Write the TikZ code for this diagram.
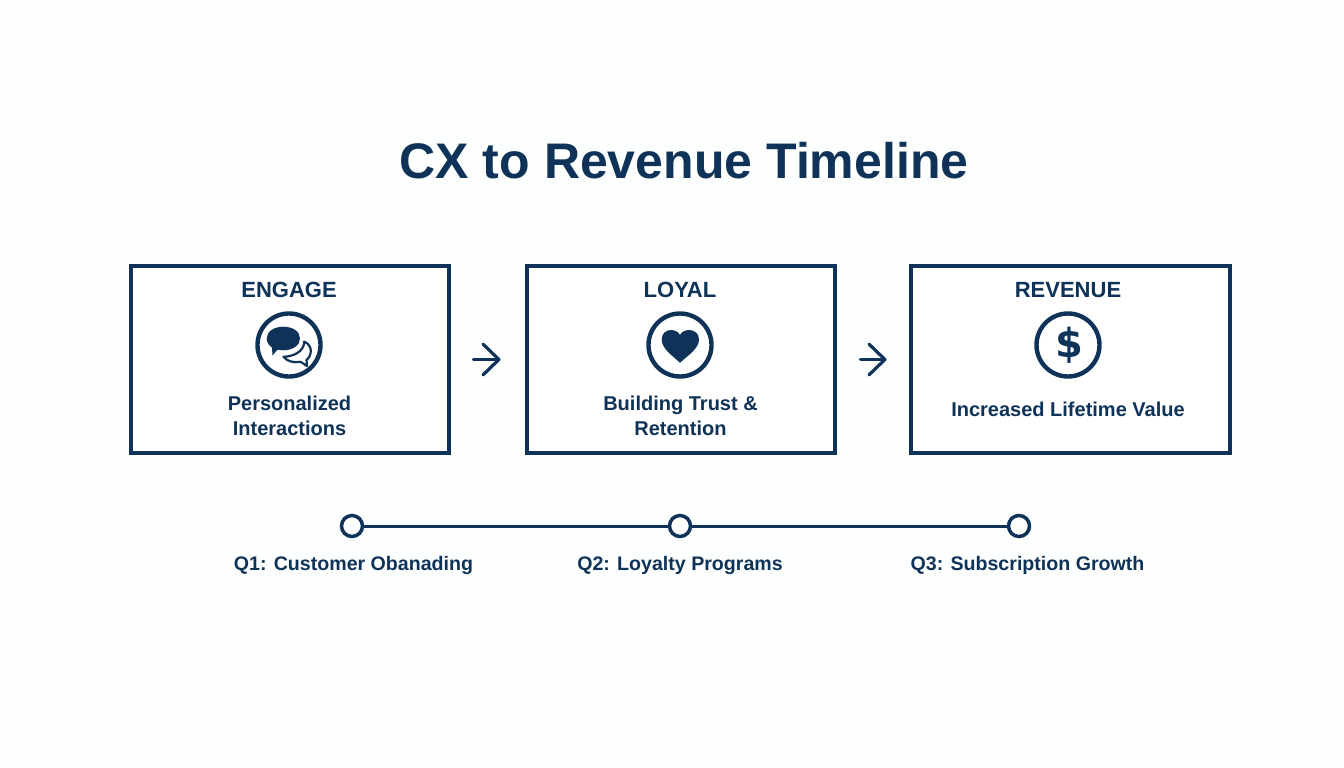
\documentclass[tikz,border=0pt]{standalone}
\usepackage{fontspec}
\setmainfont{Liberation Sans}
\newfontfamily\heavyfont{DejaVu Sans}
\usetikzlibrary{arrows.meta}
\definecolor{navy}{HTML}{0F3358}
\definecolor{paper}{HTML}{FDFEFE}
\tikzset{
  x=1pt,y=-1pt,
  stage/.style={draw=navy,line width=4pt,fill=white,minimum height=187pt,inner sep=0pt},
  head/.style={text=navy,anchor=base,font=\fontsize{22}{26}\bfseries\selectfont},
  body/.style={text=navy,font=\fontsize{20}{25}\bfseries\selectfont,align=center},
  icon/.style={draw=navy,line width=4.4pt,circle,minimum size=63pt,inner sep=0pt},
  flow/.style={draw=navy,line width=3.2pt,line cap=round,-{Straight Barb[length=16pt,width=31pt,line cap=round,round]}},
  dot/.style={draw=navy,line width=3.5pt,circle,fill=paper,minimum size=21pt,inner sep=0pt},
  tline/.style={draw=navy,line width=3pt},
  qlabel/.style={text=navy,font=\fontsize{19.6}{24}\bfseries\selectfont},
}
\begin{document}
\begin{tikzpicture}
\useasboundingbox (0,0) rectangle (1344,768);
\fill[paper] (0,0) rectangle (1344,768);
\node[text=navy,font=\fontsize{50}{60}\bfseries\selectfont] (title) at (684,161) {CX to Revenue Timeline};
\node[stage,minimum width=318pt] (engage) at (289.5,359.5) {};
\node[stage,minimum width=308pt] (loyal) at (680.5,359.5) {};
\node[stage,minimum width=319pt] (revenue) at (1070,359.5) {};
\node[head] (h1) at (289,297.5) {ENGAGE};
\node[head] (h2) at (680,297.5) {LOYAL};
\node[head] (h3) at (1068,297.5) {REVENUE};
\node[icon] (i1) at (289,345) {};
\node[icon] (i2) at (680,345) {};
\node[icon] (i3) at (1068,345) {};
% chat icon
\fill[navy] (266.7,338.5) .. controls (266.7,331.5) and (274,326.7) .. (283.3,326.7)
  .. controls (293,326.7) and (300,331.5) .. (300,338.5)
  .. controls (300,345.5) and (292.5,350.3) .. (283.3,350.3)
  .. controls (281,350.3) and (279,350) .. (277.5,349.7)
  -- (272.5,355.5) -- (272,347.5)
  .. controls (268.7,345.5) and (266.7,342) .. (266.7,338.5) -- cycle;
\draw[navy,line width=2.2pt,line join=round] (304.3,341.5) .. controls (309.5,344) and (312,349) .. (310.5,353.5)
  .. controls (310,356.5) and (308.5,358.5) .. (306.5,360) -- (307,366) -- (300.5,361.8)
  .. controls (294,363) and (287,361.5) .. (283.5,356.8)
  .. controls (293,356.5) and (304,352) .. (304.3,341.5) -- cycle;
% heart
\fill[navy] (680,362.8) .. controls (673,356) and (661.7,349) .. (661.7,339.5)
  .. controls (661.7,333.5) and (666,330) .. (671,330)
  .. controls (675,330) and (678.5,332) .. (680,335)
  .. controls (681.5,332) and (685,330) .. (689,330)
  .. controls (694.5,330) and (699,333.5) .. (699,339.5)
  .. controls (699,349) and (687,356) .. (680,362.8) -- cycle;
\node[text=navy,font=\fontsize{40}{44}\heavyfont\bfseries\selectfont] (dollar) at (1069,345) {\$};
\node[body] (b1) at (289.5,416) {Personalized\\Interactions};
\node[body] (b2) at (680.5,416) {Building Trust \&\\Retention};
\node[body] (b3) at (1068,409.5) {Increased Lifetime Value};
\draw[flow,shorten <=23pt,shorten >=24pt] (engage.east) -- (loyal.west);
\draw[flow,shorten <=24pt,shorten >=22pt] (loyal.east) -- (revenue.west);
\node[dot] (d1) at (352,526) {};
\node[dot] (d2) at (680,526) {};
\node[dot] (d3) at (1019,526) {};
\draw[tline] (d1) -- (d2);
\draw[tline] (d2) -- (d3);
\node[qlabel] (q1) at (353.5,565) {Q1: Customer Obanading};
\node[qlabel] (q2) at (680,565) {Q2: Loyalty Programs};
\node[qlabel] (q3) at (1027.5,565) {Q3: Subscription Growth};
\end{tikzpicture}
\end{document}
